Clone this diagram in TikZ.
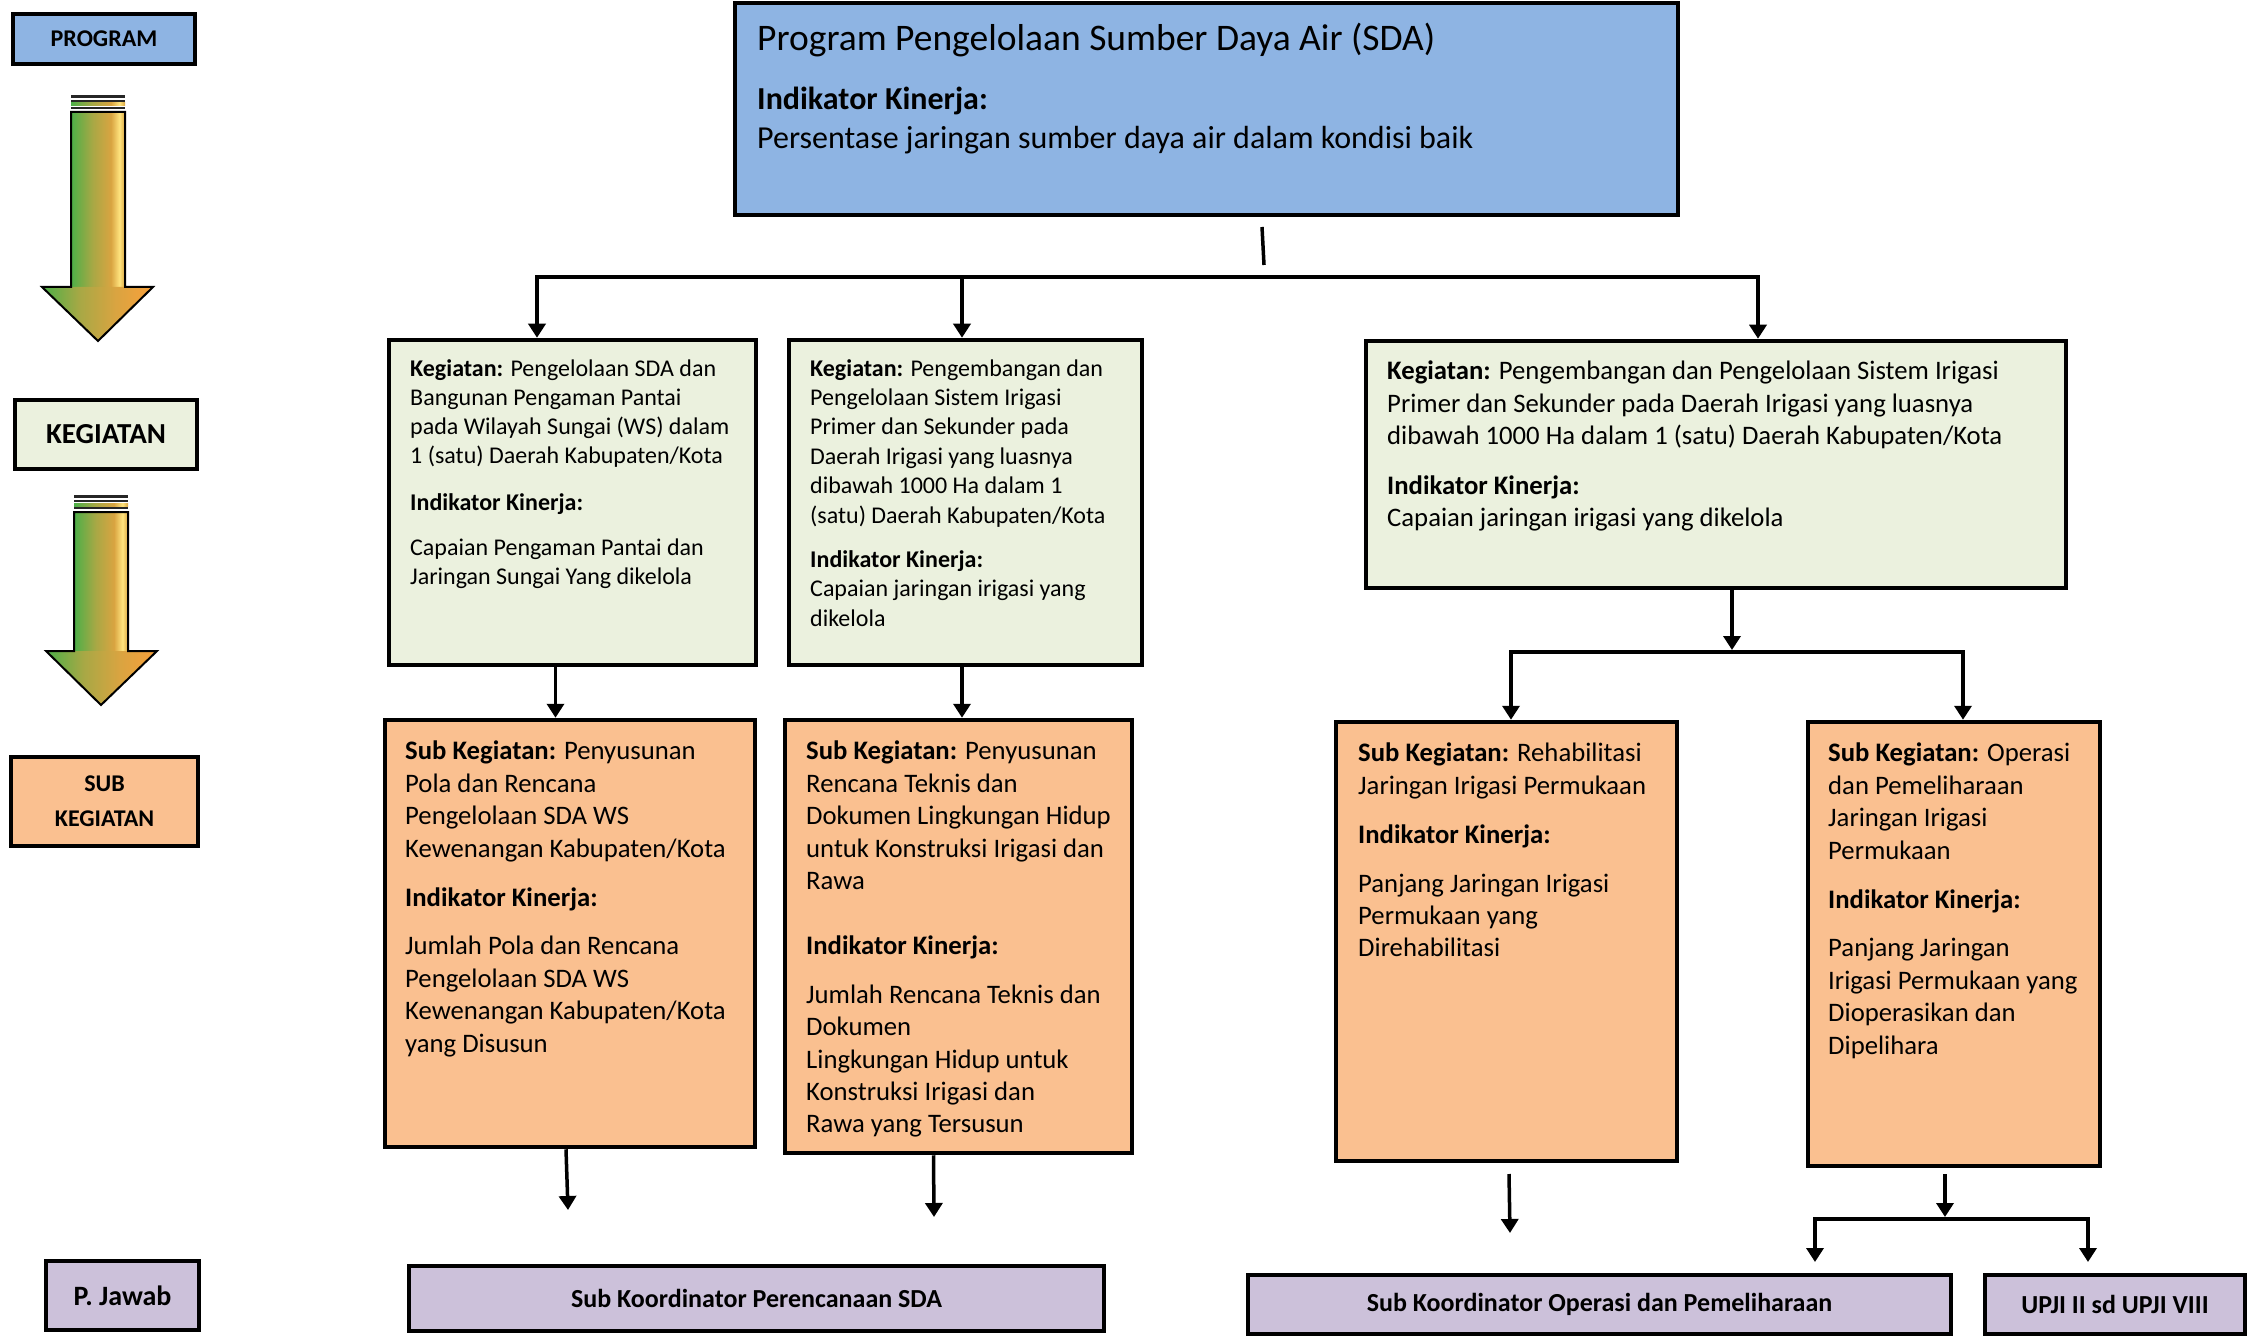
\documentclass[tikz,border=0pt]{standalone}
\usepackage{fontspec}
\setmainfont{Carlito}
\usetikzlibrary{arrows.meta,calc}
\definecolor{pblue}{HTML}{8EB4E3}
\definecolor{kgreen}{HTML}{EBF1DE}
\definecolor{sorange}{HTML}{FAC090}
\definecolor{jpurple}{HTML}{CCC1DA}
\definecolor{agreen}{HTML}{4CAF48}
\definecolor{aolive}{HTML}{A8A845}
\definecolor{agold}{HTML}{D9A441}
\definecolor{ayellow}{HTML}{FFE47E}
\definecolor{aorange}{HTML}{F9A03A}
\pgfdeclarehorizontalshading{shaftsh}{100bp}{color(0bp)=(agreen); color(25bp)=(agreen); color(45bp)=(aolive); color(62bp)=(agold); color(70bp)=(ayellow); color(75bp)=(agold); color(100bp)=(agold)}
\pgfdeclarehorizontalshading{headsh}{100bp}{color(0bp)=(agreen); color(25bp)=(agreen); color(42bp)=(aolive); color(58bp)=(agold); color(75bp)=(aorange); color(100bp)=(aorange)}
\newcommand\boxnode[7]{\node[#6, minimum width={#4pt-#2pt}, minimum height={#5pt-#3pt}] (#1) at ({(#2+#4)/2},{(#3+#5)/2}) {#7};}
\tikzset{
  bx/.style={draw=black, line width=4.5pt, inner sep=0pt, align=center},
  conn/.style={line width=3.5pt},
  arr/.style={conn, -{Triangle[width=17pt,length=14pt]}},
  biarr/.style={conn, {Triangle[width=17pt,length=14pt]}-{Triangle[width=17pt,length=14pt]}},
  txt/.style={anchor=north west, inner sep=0pt, align=left},
  ktxt/.style={txt, font=\fontsize{24}{29}\selectfont},
  stxt/.style={txt, font=\fontsize{26.7}{32.4}\selectfont},
  jtxt/.style={font=\bfseries\fontsize{26}{31}\selectfont},
}
\begin{document}
\begin{tikzpicture}[x=1pt,y=-1pt]
\useasboundingbox (0,0) rectangle (2254,1337);

% ---- left column labels
\boxnode{lprog}{13}{14}{195}{64}{bx, fill=pblue, font=\bfseries\fontsize{24}{29}\selectfont}{PROGRAM}
\boxnode{lkeg}{15}{400}{197}{469}{bx, fill=kgreen, font=\bfseries\fontsize{29}{34}\selectfont}{KEGIATAN}
\boxnode{lsub}{11}{757}{198}{846}{bx, fill=sorange, font=\bfseries\fontsize{24}{35}\selectfont}{SUB\\KEGIATAN}
\boxnode{ljaw}{46}{1261}{199}{1330}{bx, fill=jpurple, font=\bfseries\fontsize{28}{33}\selectfont}{P. Jawab}

% ---- gradient arrows
\foreach \bt/\st/\xa/\xb/\hy/\ha/\hb/\tx/\ty in {95/112/71/125/287/42/153/98/341, 495/512/74/128/651/46/157/101/705}{
  \fill[black!85] (\xa,\bt) rectangle (\xb,\bt+3);
  \fill[black!85] (\xa,\bt+5) rectangle (\xb,\bt+7);
  \shade[shading=shaftsh] (\xa,\bt+8) rectangle (\xb,\bt+11);
  \fill[black!85] (\xa,\bt+12) rectangle (\xb,\bt+14);
  \shade[shading=shaftsh] (\xa,\st) rectangle (\xb,\hy);
  \shade[shading=headsh] (\ha,\hy) -- (\hb,\hy) -- (\tx,\ty) -- cycle;
  \draw[line width=2pt, line join=miter] (\xa,\st) -- (\xa,\hy) -- (\ha,\hy) -- (\tx,\ty) -- (\hb,\hy) -- (\xb,\hy) -- (\xb,\st) -- cycle;
}

% ---- program box
\boxnode{p}{735}{3}{1678}{215}{bx, fill=pblue}{}
\node[txt, font=\fontsize{37.5}{44}\selectfont] (ptitle) at (757,23) {Program Pengelolaan Sumber Daya Air (SDA)};
\node[txt, font=\fontsize{32}{38.5}\selectfont] (pind) at (757,87) {\textbf{Indikator Kinerja:}\\Persentase jaringan sumber daya air dalam kondisi baik};

% ---- kegiatan boxes
\boxnode{k1}{389}{340}{756}{665}{bx, fill=kgreen}{}
\boxnode{k2}{789}{340}{1142}{665}{bx, fill=kgreen}{}
\boxnode{k3}{1366}{341}{2066}{588}{bx, fill=kgreen}{}
\node[ktxt] (k1t) at (410,359) {\textbf{Kegiatan:} Pengelolaan SDA dan\\Bangunan Pengaman Pantai\\pada Wilayah Sungai (WS) dalam\\1 (satu) Daerah Kabupaten/Kota\\[18pt]\textbf{Indikator Kinerja:}\\[16pt]Capaian Pengaman Pantai dan\\Jaringan Sungai Yang dikelola};
\node[ktxt, font=\fontsize{24}{29.4}\selectfont] (k2t) at (810,359) {\textbf{Kegiatan:} Pengembangan dan\\Pengelolaan Sistem Irigasi\\Primer dan Sekunder pada\\Daerah Irigasi yang luasnya\\dibawah 1000 Ha dalam 1\\(satu) Daerah Kabupaten/Kota\\[15pt]\textbf{Indikator Kinerja:}\\Capaian jaringan irigasi yang\\dikelola};
\node[stxt] (k3t) at (1387,361) {\textbf{Kegiatan:} Pengembangan dan Pengelolaan Sistem Irigasi\\Primer dan Sekunder pada Daerah Irigasi yang luasnya\\dibawah 1000 Ha dalam 1 (satu) Daerah Kabupaten/Kota\\[17pt]\textbf{Indikator Kinerja:}\\Capaian jaringan irigasi yang dikelola};

% ---- sub kegiatan boxes
\boxnode{s1}{385}{720}{755}{1147}{bx, fill=sorange}{}
\boxnode{s2}{785}{720}{1132}{1153}{bx, fill=sorange}{}
\boxnode{s3}{1336}{722}{1677}{1161}{bx, fill=sorange}{}
\boxnode{s4}{1808}{722}{2100}{1166}{bx, fill=sorange}{}
\node[stxt] (s1t) at (405,741) {\textbf{Sub Kegiatan:} Penyusunan\\Pola dan Rencana\\Pengelolaan SDA WS\\Kewenangan Kabupaten/Kota\\[16.5pt]\textbf{Indikator Kinerja:}\\[16.5pt]Jumlah Pola dan Rencana\\Pengelolaan SDA WS\\Kewenangan Kabupaten/Kota\\yang Disusun};
\node[stxt] (s2t) at (806,741) {\textbf{Sub Kegiatan:} Penyusunan\\Rencana Teknis dan\\Dokumen Lingkungan Hidup\\untuk Konstruksi Irigasi dan\\Rawa\\[32.5pt]\textbf{Indikator Kinerja:}\\[16.5pt]Jumlah Rencana Teknis dan\\Dokumen\\Lingkungan Hidup untuk\\Konstruksi Irigasi dan\\Rawa yang Tersusun};
\node[stxt] (s3t) at (1358,743) {\textbf{Sub Kegiatan:} Rehabilitasi\\Jaringan Irigasi Permukaan\\[16.5pt]\textbf{Indikator Kinerja:}\\[16.5pt]Panjang Jaringan Irigasi\\Permukaan yang\\Direhabilitasi};
\node[stxt] (s4t) at (1828,743) {\textbf{Sub Kegiatan:} Operasi\\dan Pemeliharaan\\Jaringan Irigasi\\Permukaan\\[16.5pt]\textbf{Indikator Kinerja:}\\[16.5pt]Panjang Jaringan\\Irigasi Permukaan yang\\Dioperasikan dan\\Dipelihara};

% ---- penanggung jawab boxes
\boxnode{j1}{409}{1266}{1104}{1331}{bx, fill=jpurple, jtxt}{Sub Koordinator Perencanaan SDA}
\boxnode{j2}{1248}{1275}{1951}{1334}{bx, fill=jpurple, jtxt}{Sub Koordinator Operasi dan Pemeliharaan}
\boxnode{j3}{1985}{1275}{2245}{1334}{bx, fill=jpurple, jtxt}{UPJI II sd UPJI VIII}

% ---- connectors
\coordinate (pa) at (1262,227);
\coordinate (pb) at (1264,265);
\coordinate (bL) at (537,277);
\coordinate (bM) at (962,277);
\coordinate (bR) at (1758,277);
\draw[conn] (pa) -- (pb);
\draw[biarr] (k1.north -| bL) -- (bL) -- (bR) -- (k3.north -| bR);
\draw[arr] (bM) -- (k2.north -| bM);

\draw[arr] ($(k1.south)+(-17,0)$) coordinate (ka) -- (ka |- s1.north);
\draw[arr] ($(k2.south)+(-3.5,0)$) coordinate (kb) -- (kb |- s2.north);

\coordinate (b2L) at (1511,652);
\coordinate (b2M) at (1732,650);
\coordinate (b2R) at (1963,652);
\draw[arr] ($(k3.south)+(16,0)$) -- (b2M);
\draw[biarr] (s3.north -| b2L) -- (b2L) -- (b2R) -- (s4.north -| b2R);

\coordinate (e1) at (568,1210);
\coordinate (e2) at (934,1217);
\draw[arr] ($(s1.south)+(-4,0)$) -- (e1);
\draw[arr] ($(s2.south)+(-25,0)$) -- (e2);
\coordinate (e3a) at (1509,1174);
\coordinate (e3b) at (1510,1233);
\draw[arr] (e3a) -- (e3b);
\coordinate (e4a) at (1945,1174);
\coordinate (b3M) at (1945,1217);
\coordinate (b3L) at (1815,1219);
\coordinate (b3R) at (2088,1219);
\coordinate (e4L) at (1815,1262);
\coordinate (e4R) at (2088,1262);
\draw[arr] (e4a) -- (b3M);
\draw[biarr] (e4L) -- (b3L) -- (b3R) -- (e4R);
\end{tikzpicture}
\end{document}
